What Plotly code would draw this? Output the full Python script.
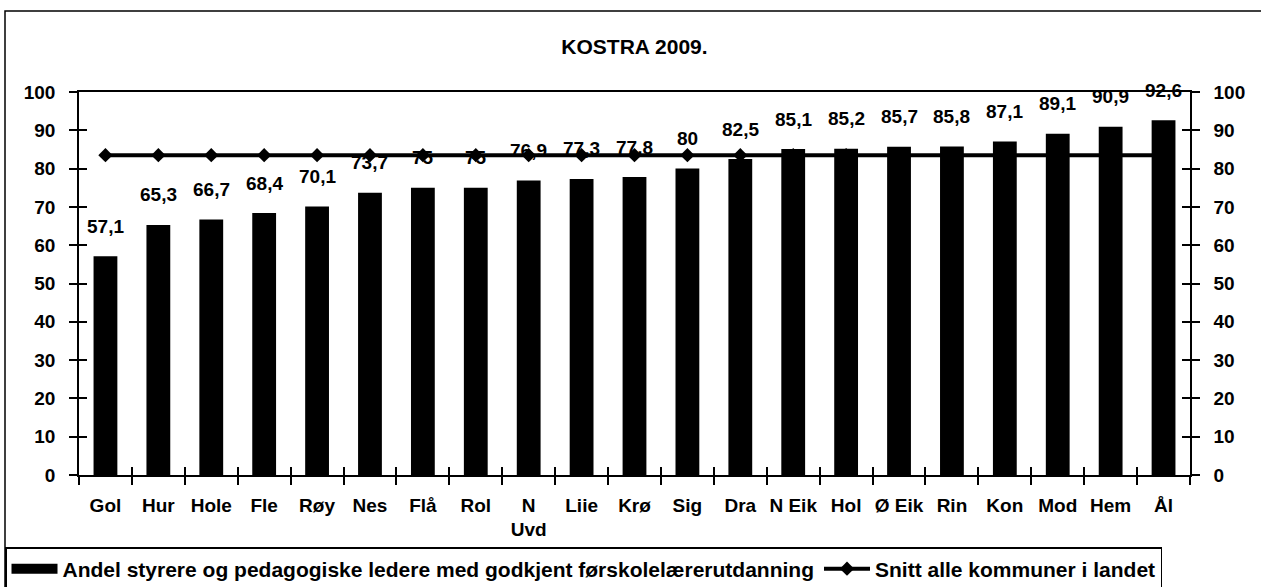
import plotly.graph_objects as go

categories = ["Gol", "Hur", "Hole", "Fle", "Røy", "Nes", "Flå", "Rol", "N Uvd", "Liie", "Krø",
              "Sig", "Dra", "N Eik", "Hol", "Ø Eik", "Rin", "Kon", "Mod", "Hem", "Ål"]
tick_labels = ["Gol", "Hur", "Hole", "Fle", "Røy", "Nes", "Flå", "Rol", "N<br>Uvd", "Liie", "Krø",
               "Sig", "Dra", "N Eik", "Hol", "Ø Eik", "Rin", "Kon", "Mod", "Hem", "Ål"]
andel = [57.1, 65.3, 66.7, 68.4, 70.1, 73.7, 75, 75, 76.9, 77.3, 77.8,
         80, 82.5, 85.1, 85.2, 85.7, 85.8, 87.1, 89.1, 90.9, 92.6]
snitt = [83.5] * len(categories)

bar_name = "Andel styrere og pedagogiske ledere med godkjent førskolelærerutdanning"
line_name = "Snitt alle kommuner i landet"

FONT = "Liberation Sans, Arial, sans-serif"
W, H = 1261, 587
L, R, T, B = 79, 71, 92, 112
pw, ph = W - L - R, H - T - B


def px_x(px):
    return (px - L) / pw


def px_y(py):
    return (H - B - py) / ph


fig = go.Figure()
fig.add_trace(go.Bar(x=categories, y=andel, name=bar_name, showlegend=False,
                     marker=dict(color="black", line=dict(width=0)), width=0.45))
# legend swatch for the bars (wide black block, as in the original legend)
fig.add_trace(go.Scatter(x=[None], y=[None], mode="lines", name=f"<b>{bar_name}</b>",
                         line=dict(color="black", width=22), hoverinfo="skip"))
fig.add_trace(go.Scatter(x=categories, y=snitt, name=f"<b>{line_name}</b>", mode="lines+markers",
                         line=dict(color="black", width=4),
                         marker=dict(symbol="diamond", size=11, color="black")))
# invisible traces that activate the extra axes (right axis + inner tick marks)
fig.add_trace(go.Scatter(x=categories, y=andel, yaxis="y2", mode="markers", marker=dict(opacity=0),
                         showlegend=False, hoverinfo="skip"))
fig.add_trace(go.Scatter(x=categories, y=andel, xaxis="x2", yaxis="y3", mode="markers",
                         marker=dict(opacity=0), showlegend=False, hoverinfo="skip"))
fig.add_trace(go.Scatter(x=categories, y=andel, yaxis="y4", mode="markers", marker=dict(opacity=0),
                         showlegend=False, hoverinfo="skip"))

for c, v in zip(categories, andel):
    fig.add_annotation(x=c, y=v, text="<b>" + f"{v:g}".replace(".", ",") + "</b>", showarrow=False, yshift=30,
                       font=dict(family=FONT, size=19, color="black"), xref="x", yref="y")

axis_font = dict(family=FONT, size=19, color="black")
ticks_y = list(range(0, 101, 10))
tick_common = dict(tickwidth=1.5, ticklen=8, showgrid=False, zeroline=False, automargin=False)
INNER = "black"
fig.update_layout(
    width=W, height=H,
    margin=dict(l=L, r=R, t=T, b=B, autoexpand=False),
    paper_bgcolor="white", plot_bgcolor="white",
    font=dict(family=FONT, color="black", size=19),
    title=dict(text="<b>KOSTRA 2009.</b>", x=0.5, xref="paper", xanchor="center",
               y=1 - 47 / H, yref="container", yanchor="middle",
               font=dict(family=FONT, size=21, color="black")),
    showlegend=True,
    legend=dict(orientation="h", x=px_x(5), xanchor="left", y=px_y(547), yanchor="top",
                bordercolor="black", borderwidth=1.5, bgcolor="white",
                font=dict(family=FONT, size=21, color="black"), itemwidth=46,
                tracegroupgap=0),
    xaxis=dict(tickmode="array", tickvals=categories, ticktext=[f"<b>{t}</b>" for t in tick_labels],
               showline=True, linecolor="black", linewidth=1.5, mirror=True, tickcolor="black",
               ticks="outside", tickson="boundaries", ticklabelstandoff=12, tickangle=0,
               tickfont=axis_font, range=[-0.5, len(categories) - 0.5], **tick_common),
    xaxis2=dict(overlaying="x", anchor="y3", side="bottom", tickmode="array", tickvals=categories,
                showticklabels=False, ticks="inside", tickson="boundaries", showline=False, tickcolor=INNER,
                range=[-0.5, len(categories) - 0.5], **tick_common),
    yaxis=dict(range=[0, 100], tickvals=ticks_y, ticktext=[f"<b>{v}</b>" for v in ticks_y],
               showline=True, linecolor="black", linewidth=1.5, tickcolor="black",
               ticks="outside", tickfont=axis_font, ticklabelstandoff=10, **tick_common),
    yaxis2=dict(range=[0, 100], overlaying="y", side="right", tickvals=ticks_y,
                ticktext=[f"<b>{v}</b>" for v in ticks_y], tickcolor="black",
                showline=True, linecolor="black", linewidth=1.5,
                ticks="outside", tickfont=axis_font, ticklabelstandoff=10, **tick_common),
    yaxis3=dict(range=[0, 100], overlaying="y", side="left", anchor="x2", tickvals=ticks_y,
                showticklabels=False, showline=False, ticks="inside", tickcolor=INNER, **tick_common),
    yaxis4=dict(range=[0, 100], overlaying="y", side="right", tickvals=ticks_y,
                showticklabels=False, showline=False, ticks="inside", tickcolor=INNER, **tick_common),
)

fig.add_shape(type="rect", xref="paper", yref="paper", x0=px_x(5), x1=px_x(1275), y0=px_y(11), y1=px_y(610),
              line=dict(color="black", width=1.5), fillcolor="rgba(0,0,0,0)", layer="below")

fig.write_html("out.html", config={"displayModeBar": False},
               post_script="document.body.style.margin='0';")
